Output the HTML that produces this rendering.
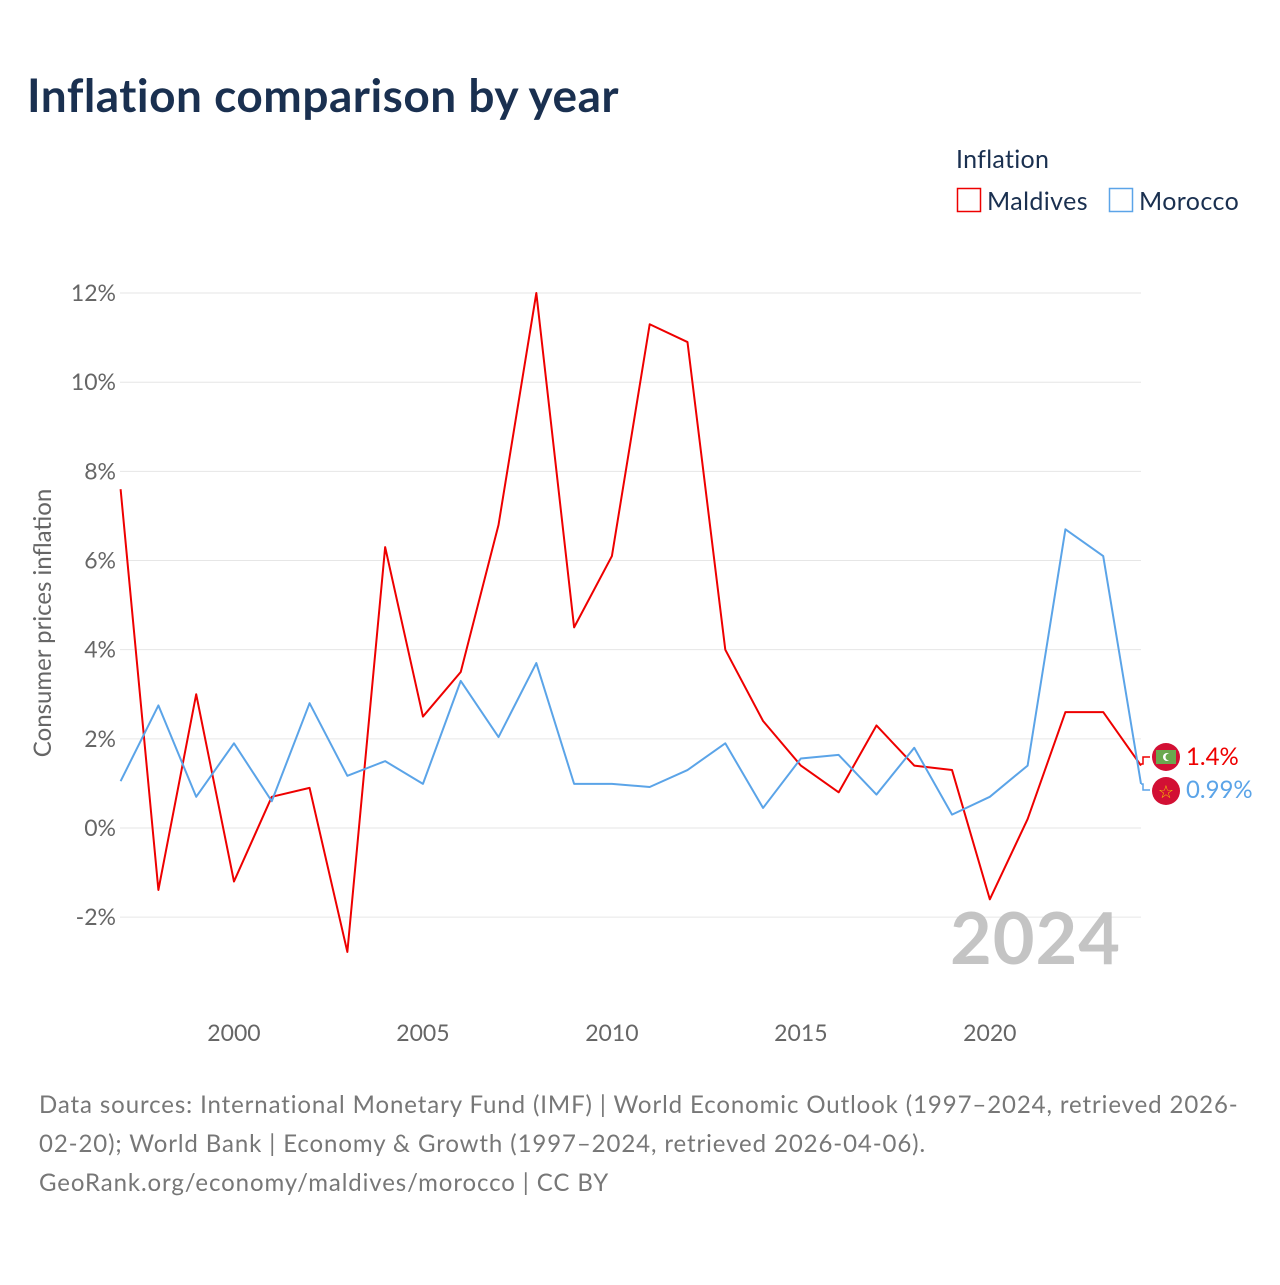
<!DOCTYPE html>
<html><head><meta charset="utf-8"><style>
body{margin:0;background:#fff;font-family:"Liberation Sans",sans-serif;}
svg text{font-family:"Lato","Liberation Sans",sans-serif;}
</style></head><body>
<svg id="c" width="1280" height="1280" xmlns="http://www.w3.org/2000/svg">
<rect width="1280" height="1280" fill="#fff"/>
<text x="27" y="112" font-size="46" font-weight="bold" fill="#1a3050" letter-spacing="0.5">Inflation comparison by year</text>
<text x="956" y="168" font-size="25" fill="#1a3050" letter-spacing="0.3">Inflation</text>
<g><rect x="957.5" y="188.5" width="23" height="23" fill="none" stroke="#ee0000" stroke-width="1.5"/><text x="987" y="210" font-size="25" fill="#1a3050" letter-spacing="0.4">Maldives</text></g>
<g><rect x="1109.5" y="188.5" width="23" height="23" fill="none" stroke="#5ba4e8" stroke-width="1.5"/><text x="1139" y="210" font-size="25" fill="#1a3050" letter-spacing="0.4">Morocco</text></g>
<g id="grid"></g><g id="yt"></g><g id="xt"></g>
<text transform="translate(51,623) rotate(-90)" text-anchor="middle" font-size="24" fill="#666">Consumer prices inflation</text>
<text x="1121" y="964" text-anchor="end" font-size="72" font-weight="bold" fill="#c4c4c4" letter-spacing="1">2024</text>
<g id="series"></g>
<g>
<path d="M1141 764 L1143 764 L1143 757 L1150 757" stroke="#ee0000" fill="none" stroke-width="1.5"/>
<path d="M1141 784 L1143 784 L1143 790 L1150 790" stroke="#5ba4e8" fill="none" stroke-width="1.5"/>
<circle cx="1166" cy="757" r="14" fill="#d21034"/>
<rect x="1156" y="750" width="20" height="14" fill="#6aa84f"/><circle cx="1167" cy="757" r="4" fill="#fff"/><circle cx="1169" cy="757" r="3.5" fill="#6aa84f"/>
<circle cx="1166" cy="791" r="14" fill="#d21034"/>
<text x="1166" y="798" text-anchor="middle" font-size="18" fill="#f5c400">☆</text>
<text x="1186" y="765" font-size="24" fill="#ee0000">1.4%</text>
<text x="1186" y="798" font-size="24" fill="#5ba4e8">0.99%</text>
</g>
<text font-size="24" fill="#777" letter-spacing="0.9"><tspan x="39" y="1113">Data sources: International Monetary Fund (IMF) | World Economic Outlook (1997–2024, retrieved 2026-</tspan><tspan x="39" y="1152">02-20); World Bank | Economy &amp; Growth (1997–2024, retrieved 2026-04-06).</tspan><tspan x="39" y="1191">GeoRank.org/economy/maldives/morocco | CC BY</tspan></text>
</svg>
<script>
const years=[1997,1998,1999,2000,2001,2002,2003,2004,2005,2006,2007,2008,2009,2010,2011,2012,2013,2014,2015,2016,2017,2018,2019,2020,2021,2022,2023,2024];
const maldives=[7.6,-1.39,3.0,-1.2,0.7,0.9,-2.78,6.3,2.5,3.5,6.8,12.0,4.5,6.1,11.3,10.9,4.0,2.4,1.4,0.8,2.3,1.4,1.3,-1.6,0.2,2.6,2.6,1.4];
const morocco=[1.05,2.75,0.7,1.9,0.6,2.8,1.17,1.5,0.99,3.3,2.04,3.7,0.99,0.99,0.92,1.3,1.9,0.45,1.56,1.64,0.75,1.8,0.3,0.7,1.4,6.7,6.1,0.99];
const yTicks=[-2,0,2,4,6,8,10,12];
const xTicks=[2000,2005,2010,2015,2020];
const NS="http://www.w3.org/2000/svg";
const x=v=>120.6+(v-1997)*(1141-120.6)/27;
const y=v=>828-v*44.58;
function mk(tag,attrs,parent){const e=document.createElementNS(NS,tag);for(const k in attrs)e.setAttribute(k,attrs[k]);document.getElementById(parent).appendChild(e);return e;}
yTicks.forEach(t=>{
 const l=mk('line',{x1:120,x2:1141,y1:y(t),y2:y(t),stroke:'#e6e6e6','stroke-width':1},'grid');
 
 
 const tx=mk('text',{x:116,y:y(t)+8,'text-anchor':'end','font-size':23,fill:'#666'},'yt');
 tx.textContent=t+'%';
 
 
});
xTicks.forEach(t=>{
 const tx=mk('text',{x:x(t),y:1041,'text-anchor':'middle','font-size':23,fill:'#666'},'xt');
 tx.textContent=t;
 
 
});
[[maldives,'#ee0000','maldives-line'],[morocco,'#5ba4e8','morocco-line']].forEach(([d,c,n])=>{
 const p=mk('polyline',{points:d.map((v,i)=>x(years[i])+','+y(v)).join(' '),fill:'none',stroke:c,'stroke-width':2,'stroke-linejoin':'round'},'series');
 
 
});
</script>
</body></html>
